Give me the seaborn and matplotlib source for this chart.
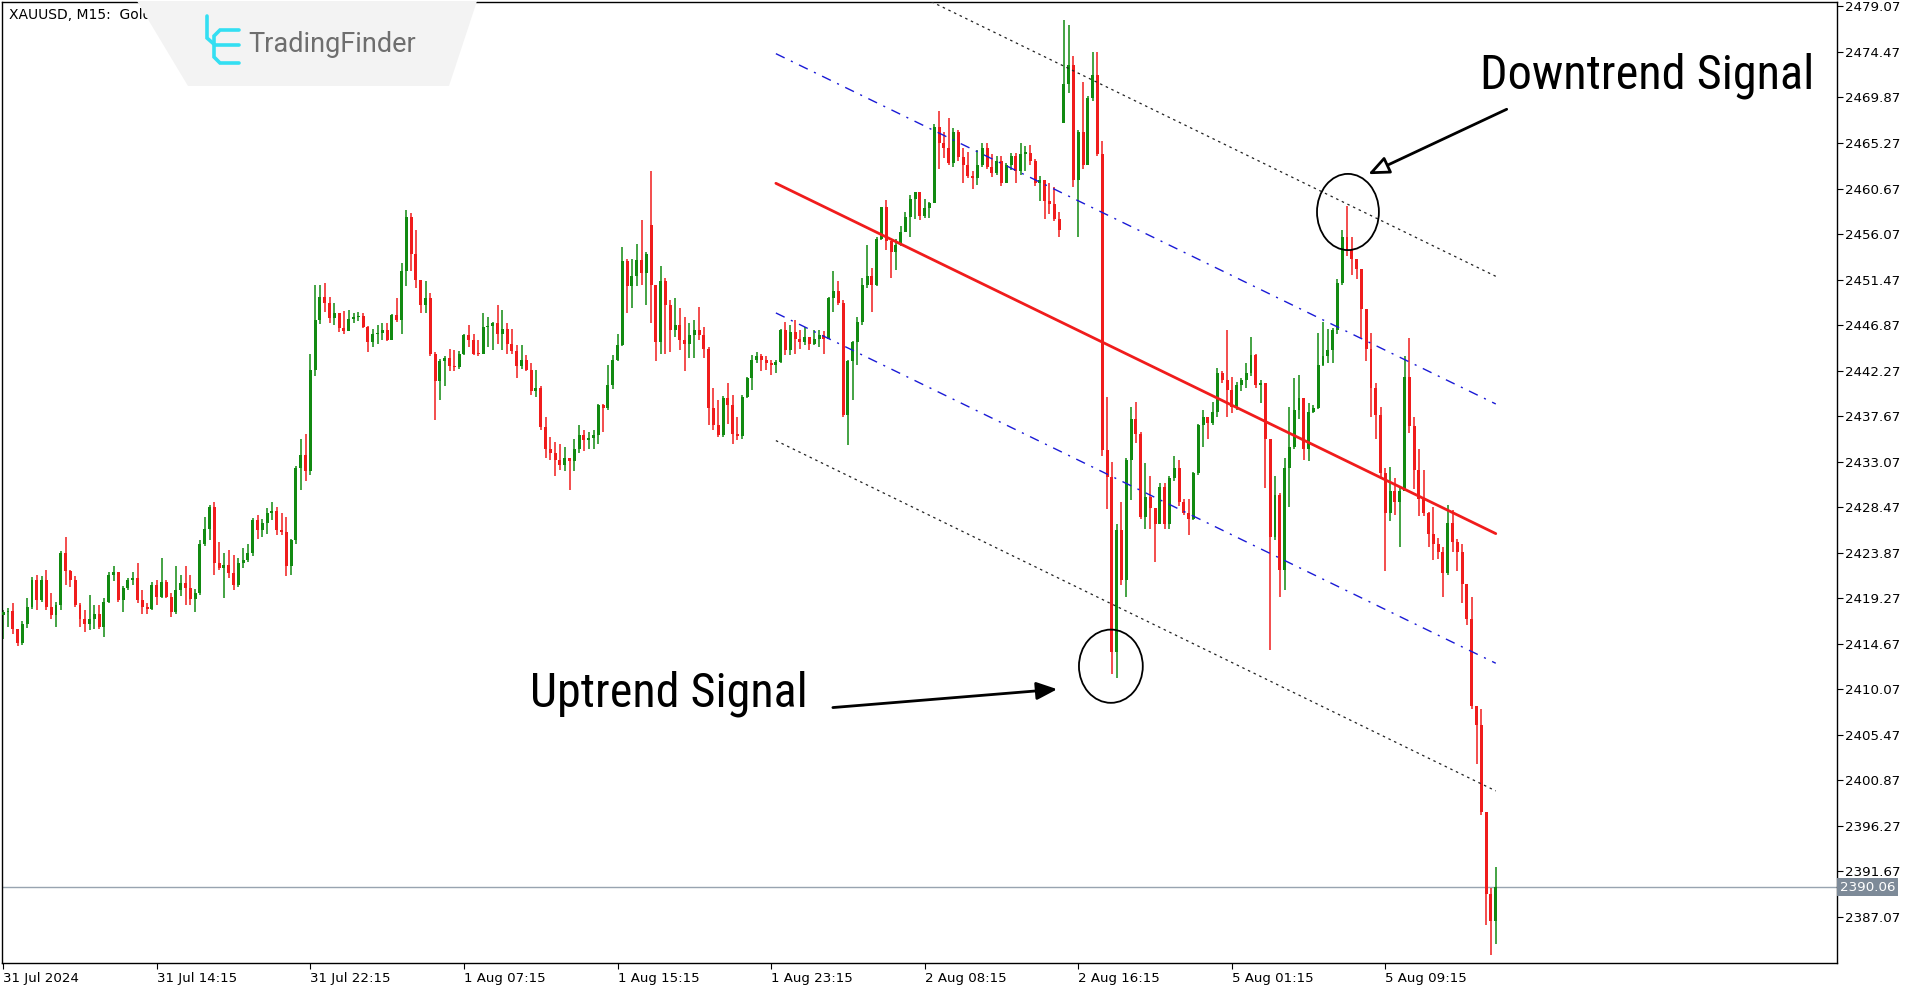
import numpy as np
import pandas as pd
import matplotlib
matplotlib.use("Agg")
import matplotlib.pyplot as plt
import seaborn as sns
from matplotlib.patches import Ellipse, Polygon
from matplotlib.lines import Line2D
from matplotlib import font_manager as fm
from matplotlib.transforms import blended_transform_factory

# ---------------- data ----------------
first_open = 2417.6
closes = [
    2417.9, 2418.0, 2416.2, 2414.7, 2416.7, 2418.4, 2421.1, 2419.1, 2421.1, 2418.4,
    2417.6, 2418.6, 2423.8, 2422.0, 2421.1, 2418.6, 2417.2, 2416.7, 2417.2, 2417.7,
    2416.4, 2418.9, 2421.6, 2421.9, 2419.1, 2420.3, 2421.1, 2421.3, 2419.1, 2418.4,
    2418.2, 2420.6, 2419.4, 2420.9, 2419.4, 2417.9, 2420.1, 2420.8, 2420.3, 2419.2,
    2419.8, 2424.7, 2426.3, 2428.5, 2422.8, 2422.3, 2422.6, 2421.8, 2420.6, 2422.8,
    2423.1, 2423.8, 2427.2, 2426.2, 2426.9, 2427.9, 2428.1, 2426.2, 2426.0, 2422.5,
    2425.2, 2432.4, 2433.7, 2432.1, 2442.3, 2447.4, 2449.7, 2449.1, 2447.6, 2448.1,
    2446.6, 2446.3, 2447.5, 2447.7, 2447.8, 2446.7, 2445.2, 2446.0, 2446.1, 2446.4,
    2445.4, 2447.9, 2447.4, 2452.3, 2457.8, 2454.1, 2451.4, 2448.9, 2449.6, 2443.9,
    2441.2, 2443.2, 2443.5, 2442.7, 2442.6, 2444.0, 2445.9, 2445.4, 2444.0, 2443.9,
    2446.7, 2446.8, 2447.1, 2446.0, 2446.5, 2445.0, 2444.3, 2442.7, 2443.3, 2442.3,
    2440.2, 2440.5, 2436.6, 2434.4, 2433.9, 2433.2, 2432.7, 2433.4, 2433.1, 2434.4,
    2435.8, 2435.3, 2435.5, 2435.8, 2438.8, 2438.5, 2440.8, 2443.3, 2444.9, 2453.3,
    2450.8, 2451.8, 2453.4, 2452.1, 2454.1, 2450.9, 2445.2, 2451.3, 2448.9, 2446.4,
    2446.9, 2445.4, 2445.0, 2445.9, 2446.4, 2445.9, 2444.5, 2438.5, 2436.8, 2435.8,
    2439.5, 2438.8, 2435.9, 2435.7, 2439.6, 2441.5, 2443.3, 2443.7, 2443.3, 2443.0,
    2442.8, 2443.1, 2446.4, 2444.4, 2446.2, 2445.5, 2445.2, 2445.7, 2445.0, 2445.5,
    2445.9, 2445.5, 2449.6, 2450.3, 2449.1, 2437.8, 2443.2, 2445.2, 2447.2, 2450.9,
    2451.8, 2450.9, 2455.6, 2458.8, 2455.4, 2454.3, 2455.0, 2456.3, 2457.8, 2459.6,
    2460.3, 2457.9, 2458.7, 2459.2, 2466.9, 2465.3, 2464.8, 2463.3, 2466.4, 2463.9,
    2463.0, 2461.9, 2461.7, 2463.0, 2464.8, 2462.8, 2462.2, 2463.5, 2461.2, 2463.0,
    2464.0, 2462.4, 2464.2, 2464.3, 2463.5, 2461.2, 2461.5, 2459.4, 2459.1, 2457.6,
    2456.5, 2471.2, 2473.2, 2461.5, 2466.4, 2463.0, 2469.8, 2472.1, 2464.2, 2434.2,
    2431.5, 2413.8, 2426.2, 2421.1, 2433.2, 2437.4, 2435.9, 2427.5, 2429.5, 2428.4,
    2426.8, 2430.5, 2426.8, 2431.4, 2432.4, 2429.0, 2427.9, 2427.3, 2431.9, 2436.8,
    2437.6, 2437.0, 2438.1, 2442.0, 2441.3, 2440.3, 2438.6, 2440.8, 2441.3, 2442.0,
    2443.8, 2440.8, 2441.0, 2435.4, 2425.5, 2429.7, 2422.1, 2432.4, 2434.6, 2438.3,
    2439.5, 2434.3, 2438.1, 2438.5, 2442.8, 2443.7, 2444.4, 2446.4, 2451.1, 2455.8,
    2454.5, 2453.5, 2452.5, 2448.5, 2444.5, 2440.5, 2437.8, 2431.9, 2427.9, 2430.1,
    2429.0, 2430.1, 2441.6, 2436.7, 2432.2, 2429.3, 2427.9, 2425.8, 2424.7, 2423.9,
    2421.8, 2426.9, 2425.0, 2423.9, 2420.7, 2417.2, 2408.4, 2406.5, 2397.7, 2389.4,
    2386.7, 2390.06,
]
highs = [
    2418.1, 2418.3, 2418.8, 2416.2, 2417.0, 2419.3, 2421.4, 2421.6, 2421.5, 2422.1,
    2419.8, 2418.9, 2424.0, 2425.5, 2422.1, 2421.5, 2418.8, 2418.1, 2419.6, 2418.6,
    2418.6, 2419.3, 2421.9, 2422.5, 2421.9, 2420.5, 2421.3, 2421.9, 2422.8, 2420.1,
    2418.8, 2420.9, 2421.1, 2423.3, 2421.1, 2419.8, 2422.5, 2421.6, 2422.5, 2421.6,
    2420.2, 2425.2, 2427.5, 2428.7, 2429.0, 2425.0, 2423.8, 2424.1, 2423.6, 2423.3,
    2424.3, 2424.8, 2427.4, 2427.7, 2427.3, 2428.4, 2429.0, 2428.5, 2427.9, 2427.5,
    2425.3, 2432.6, 2435.4, 2435.9, 2444.0, 2450.9, 2450.9, 2451.1, 2449.7, 2449.1,
    2448.0, 2448.3, 2448.4, 2448.1, 2448.2, 2448.1, 2446.8, 2446.5, 2446.9, 2447.05,
    2447.05, 2448.0, 2449.6, 2453.1, 2458.5, 2458.2, 2456.5, 2451.4, 2451.3, 2450.1,
    2444.2, 2443.4, 2443.7, 2444.5, 2444.4, 2444.3, 2446.0, 2446.9, 2446.0, 2445.4,
    2448.1, 2447.7, 2447.2, 2448.9, 2448.4, 2447.05, 2446.5, 2444.9, 2444.9, 2443.8,
    2443.0, 2442.3, 2440.7, 2437.6, 2435.6, 2435.1, 2434.9, 2434.6, 2433.4, 2435.4,
    2436.8, 2436.3, 2436.1, 2436.3, 2438.9, 2438.9, 2442.8, 2443.8, 2446.0, 2454.8,
    2453.6, 2453.5, 2455.1, 2457.5, 2454.3, 2462.4, 2450.9, 2452.8, 2451.6, 2449.4,
    2449.6, 2448.6, 2447.7, 2447.05, 2447.4, 2448.7, 2446.7, 2444.7, 2440.5, 2439.3,
    2439.7, 2441.0, 2439.8, 2437.6, 2439.8, 2441.6, 2443.8, 2444.2, 2443.9, 2443.7,
    2443.3, 2443.3, 2446.5, 2447.2, 2446.9, 2447.4, 2446.4, 2446.7, 2445.7, 2446.4,
    2446.4, 2446.3, 2449.7, 2452.3, 2451.3, 2449.4, 2443.3, 2445.3, 2447.7, 2451.6,
    2455.0, 2452.6, 2455.8, 2458.8, 2459.5, 2455.0, 2455.6, 2456.9, 2458.3, 2460.0,
    2460.3, 2460.3, 2459.6, 2459.3, 2467.2, 2468.5, 2466.4, 2467.8, 2466.8, 2466.6,
    2464.8, 2464.4, 2462.4, 2464.6, 2465.3, 2465.3, 2464.2, 2464.0, 2464.0, 2463.3,
    2464.3, 2464.3, 2465.3, 2465.0, 2465.1, 2463.7, 2461.9, 2461.0, 2461.2, 2460.8,
    2458.3, 2477.7, 2477.2, 2474.1, 2466.6, 2471.4, 2470.0, 2474.5, 2474.5, 2465.5,
    2439.6, 2433.0, 2426.8, 2429.0, 2433.4, 2438.6, 2439.1, 2436.1, 2432.9, 2431.6,
    2428.4, 2430.9, 2430.9, 2431.6, 2433.6, 2433.2, 2429.3, 2429.3, 2432.0, 2436.9,
    2438.3, 2437.6, 2439.1, 2442.5, 2442.2, 2446.4, 2441.6, 2441.1, 2441.5, 2443.0,
    2445.7, 2444.0, 2441.3, 2441.0, 2435.4, 2431.6, 2429.9, 2433.4, 2438.6, 2441.5,
    2441.8, 2439.5, 2438.97, 2438.8, 2446.1, 2447.2, 2446.5, 2446.6, 2451.5, 2456.5,
    2458.9, 2455.8, 2453.6, 2452.5, 2448.5, 2446.1, 2441.0, 2438.6, 2432.4, 2432.5,
    2431.4, 2430.5, 2443.7, 2445.6, 2437.6, 2434.3, 2432.2, 2428.0, 2428.5, 2425.4,
    2424.4, 2428.7, 2428.2, 2425.3, 2424.7, 2420.7, 2419.4, 2408.4, 2408.1, 2397.7,
    2390.0, 2392.1,
]
lows = [
    2415.1, 2416.4, 2415.7, 2414.4, 2414.5, 2416.3, 2418.2, 2418.1, 2418.9, 2418.1,
    2417.2, 2416.4, 2418.1, 2420.6, 2420.4, 2418.4, 2416.4, 2415.9, 2416.1, 2416.2,
    2416.2, 2415.4, 2418.8, 2421.0, 2418.9, 2417.9, 2420.1, 2420.6, 2418.8, 2417.7,
    2417.7, 2418.1, 2418.6, 2419.3, 2419.3, 2417.4, 2417.7, 2419.5, 2418.6, 2418.6,
    2417.9, 2419.6, 2424.5, 2425.2, 2421.6, 2422.1, 2419.3, 2421.3, 2420.1, 2420.4,
    2422.3, 2422.9, 2423.5, 2425.3, 2425.5, 2425.8, 2427.2, 2425.7, 2425.7, 2421.5,
    2421.6, 2424.7, 2430.2, 2431.1, 2431.7, 2441.7, 2447.0, 2448.2, 2447.1, 2446.9,
    2446.2, 2446.0, 2446.8, 2447.1, 2447.3, 2446.6, 2444.2, 2444.7, 2445.0, 2445.4,
    2445.3, 2445.4, 2447.2, 2446.0, 2450.8, 2452.3, 2450.6, 2448.1, 2448.1, 2443.7,
    2437.3, 2439.3, 2440.7, 2442.2, 2442.2, 2442.4, 2443.8, 2444.7, 2443.8, 2443.7,
    2443.9, 2444.7, 2444.4, 2445.0, 2444.4, 2444.0, 2444.0, 2441.5, 2442.4, 2442.2,
    2439.8, 2439.6, 2436.3, 2433.4, 2433.2, 2431.6, 2432.2, 2432.1, 2430.2, 2432.1,
    2433.9, 2434.1, 2434.3, 2434.3, 2434.9, 2436.1, 2438.3, 2440.4, 2443.2, 2444.8,
    2448.1, 2448.6, 2450.8, 2450.9, 2448.9, 2447.1, 2443.2, 2443.9, 2443.9, 2444.2,
    2445.7, 2444.4, 2442.2, 2443.5, 2443.5, 2445.4, 2443.5, 2436.8, 2436.3, 2435.6,
    2435.6, 2436.9, 2434.9, 2435.3, 2435.4, 2439.5, 2440.3, 2443.0, 2442.2, 2442.3,
    2441.8, 2442.0, 2443.0, 2443.8, 2443.8, 2444.0, 2444.5, 2444.9, 2444.4, 2444.9,
    2444.7, 2444.0, 2445.5, 2448.2, 2448.9, 2437.6, 2434.8, 2439.3, 2442.8, 2446.9,
    2450.6, 2448.2, 2450.8, 2455.5, 2454.5, 2451.6, 2452.4, 2454.9, 2456.3, 2455.8,
    2457.6, 2457.5, 2457.7, 2457.7, 2459.2, 2462.6, 2463.8, 2463.0, 2462.8, 2463.5,
    2461.2, 2461.7, 2460.6, 2461.0, 2462.8, 2462.6, 2461.8, 2462.0, 2460.9, 2461.2,
    2462.5, 2461.2, 2462.0, 2462.4, 2463.0, 2460.9, 2459.4, 2457.6, 2458.1, 2457.4,
    2455.8, 2467.3, 2470.3, 2460.8, 2455.8, 2462.6, 2463.3, 2469.5, 2464.0, 2433.6,
    2428.3, 2411.6, 2411.2, 2420.6, 2419.4, 2429.2, 2435.0, 2427.3, 2426.3, 2426.3,
    2422.9, 2426.8, 2426.3, 2426.3, 2431.1, 2428.6, 2427.7, 2425.7, 2427.2, 2431.7,
    2434.6, 2435.4, 2436.8, 2437.6, 2441.0, 2437.6, 2438.0, 2438.3, 2440.2, 2440.5,
    2441.7, 2440.5, 2439.0, 2430.4, 2414.0, 2425.2, 2419.4, 2420.1, 2428.5, 2434.3,
    2437.4, 2433.2, 2433.1, 2438.0, 2438.4, 2442.7, 2443.0, 2443.0, 2446.0, 2450.9,
    2453.9, 2451.9, 2451.5, 2445.6, 2443.2, 2437.6, 2435.4, 2431.3, 2422.0, 2427.1,
    2427.7, 2424.4, 2430.3, 2436.0, 2430.3, 2427.6, 2427.6, 2424.4, 2423.1, 2423.2,
    2419.4, 2421.6, 2423.9, 2422.0, 2418.8, 2416.6, 2408.1, 2402.5, 2397.4, 2386.2,
    2383.2, 2384.3,
]
open_gaps = {135: 2457.0, 221: 2467.3}

time_tick_pos = [0, 32, 64, 96, 128, 160, 192, 224, 256, 288]
time_tick_labels = ["31 Jul 2024", "31 Jul 14:15", "31 Jul 22:15", "1 Aug 07:15",
                    "1 Aug 15:15", "1 Aug 23:15", "2 Aug 08:15", "2 Aug 16:15",
                    "5 Aug 01:15", "5 Aug 09:15"]
price_ticks = [2387.07, 2391.67, 2396.27, 2400.87, 2405.47, 2410.07, 2414.67,
               2419.27, 2423.87, 2428.47, 2433.07, 2437.67, 2442.27, 2446.87,
               2451.47, 2456.07, 2460.67, 2465.27, 2469.87, 2474.47, 2479.07]

channel_x = [161, 311]
channel_mid = [2461.2, 2425.8]
inner_band = 13.1
outer_band = 26.0
last_price = 2390.06

# ---------------- style ----------------
sns.set_theme(style="white")
plt.rcParams["font.family"] = ["DejaVu Sans"]

GREEN = "#118a11"
RED = "#f01c1c"

W, H = 1920, 997
fig = plt.figure(figsize=(W / 100, H / 100), dpi=100)
fig.patch.set_facecolor("white")
ax = fig.add_axes([2 / W, 1 - 962.5 / H, 1835 / W, 960.5 / H])
ax.set_facecolor("white")

# ---------------- candles ----------------
c = np.array(closes)
hi = np.array(highs)
lo = np.array(lows)
n = len(c)
idx = np.arange(n)
o = np.r_[first_open, c[:-1]]
for k, v in open_gaps.items():
    o[k] = v
up = c >= o
cols = np.where(up, GREEN, RED)
top = np.maximum(hi, np.maximum(o, c))
bot = np.minimum(lo, np.minimum(o, c))
ax.vlines(idx, bot, top, colors=cols, lw=1.1, zorder=2)
body_b = np.minimum(o, c)
body_h = np.maximum(np.abs(c - o), 0.12)
ax.bar(idx, body_h, bottom=body_b, width=0.62, color=cols, linewidth=0, zorder=3)

# ---------------- regression channel ----------------
mid = np.array(channel_mid)
sns.lineplot(x=channel_x, y=mid + outer_band, ax=ax, color="#222222", lw=0.9,
             linestyle=(0, (2, 3)), zorder=4)
sns.lineplot(x=channel_x, y=mid - outer_band, ax=ax, color="#222222", lw=0.9,
             linestyle=(0, (2, 3)), zorder=4)
sns.lineplot(x=channel_x, y=mid + inner_band, ax=ax, color="#1a1ad6", lw=1.0,
             linestyle=(0, (7, 5, 1.5, 5)), zorder=4)
sns.lineplot(x=channel_x, y=mid - inner_band, ax=ax, color="#1a1ad6", lw=1.0,
             linestyle=(0, (7, 5, 1.5, 5)), zorder=4)
sns.lineplot(x=channel_x, y=mid, ax=ax, color=RED, lw=2.0, zorder=5)

# current price line
ax.axhline(last_price, color="#98a4b0", lw=1.0, zorder=1)

# ---------------- axes ----------------
ax.set_xlim(-0.25, 382.1)
ax.set_ylim(2382.46, 2479.52)
ax.yaxis.tick_right()
ax.set_yticks(price_ticks)
ax.set_yticklabels([f"{v:.2f}" for v in price_ticks])
ax.set_xticks(time_tick_pos)
ax.set_xticklabels(time_tick_labels, ha="left")
ax.tick_params(axis="y", which="both", right=True, left=False, direction="out",
               length=4, width=0.8, labelsize=9.6, pad=1.5, colors="black")
ax.tick_params(axis="x", which="both", bottom=True, direction="out", length=4,
               width=0.8, labelsize=9.6, pad=3, colors="black")
for s in ax.spines.values():
    s.set_visible(True)
    s.set_color("black")
    s.set_linewidth(1.0)
ax.grid(False)
ax.set_xlabel("")
ax.set_ylabel("")
if ax.get_legend() is not None:
    ax.get_legend().remove()

# price label box on the axis
trans = blended_transform_factory(ax.transAxes, ax.transData)
ax.text(1.0015, last_price, f"{last_price:.2f}", transform=trans, ha="left",
        va="center", fontsize=9.6, color="white", zorder=10, clip_on=False,
        bbox=dict(boxstyle="square,pad=0.2", fc="#7d8a98", ec="none"))

# ---------------- annotations ----------------
ax.add_patch(Ellipse((230.8, 2412.4), 13.3, 7.4, fill=False, ec="black", lw=1.3, zorder=6))
ax.add_patch(Ellipse((280.2, 2458.3), 12.9, 7.7, fill=False, ec="black", lw=1.3, zorder=6))

ax.annotate("", xy=(220.2, 2410.1), xytext=(172.3, 2408.2),
            arrowprops=dict(arrowstyle="-|>,head_length=0.7,head_width=0.3",
                            color="black", lw=2.0, mutation_scale=18), zorder=6)
ax.annotate("", xy=(283.9, 2462.0), xytext=(313.8, 2468.8),
            arrowprops=dict(arrowstyle="-|>,head_length=0.7,head_width=0.3",
                            fc="white", ec="black", lw=2.0, mutation_scale=18), zorder=6)

# pick a condensed font if one is installed
prefs = ["Roboto Condensed", "Liberation Sans Narrow", "Open Sans Condensed",
         "Noto Sans Condensed", "DejaVu Sans Condensed"]
fp = None
for name in prefs:
    for f in fm.fontManager.ttflist:
        if f.name == name and f.style == "normal" and f.weight in (400, "normal", "regular"):
            fp = fm.FontProperties(fname=f.fname)
            break
    if fp is not None:
        break
if fp is None:
    for f in fm.fontManager.ttflist:
        if f.stretch in ("condensed", "semi-condensed") and f.style == "normal" \
                and f.weight in (400, "normal", "regular"):
            fp = fm.FontProperties(fname=f.fname)
            break
if fp is None:
    fp = fm.FontProperties(family="Roboto")

t1 = ax.text(138.7, 2409.6, "Uptrend Signal", ha="center", va="center",
             fontproperties=fp, fontsize=40, color="black", zorder=7)
t2 = ax.text(342.5, 2472.1, "Downtrend Signal", ha="center", va="center",
             fontproperties=fp, fontsize=40, color="black", zorder=7)
fig.canvas.draw()
r = fig.canvas.get_renderer()
for t, target in ((t1, 275.0), (t2, 331.0)):
    w = t.get_window_extent(r).width
    size = min(40.0, 40.0 * target / w * 1.01)
    t.set_fontsize(size)

# ---------------- header / watermark ----------------
fig.text(9 / W, 1 - 8 / H, "XAUUSD, M15:  Gold Spot", ha="left", va="top",
         fontsize=10, color="black", zorder=5)
wm = Polygon([(137 / W, 1 - 1 / H), (477 / W, 1 - 1 / H), (449 / W, 1 - 86 / H),
              (188 / W, 1 - 86 / H)], closed=True, transform=fig.transFigure,
             fc="#f3f3f3", ec="none", zorder=6)
fig.add_artist(wm)
icon_color = "#33dff2"
for pts in ([(207, 16), (207, 38), (215, 45), (239, 45)],
            [(239, 30), (220, 30), (214, 36), (214, 57), (220, 63), (239, 63)]):
    xs = [p[0] / W for p in pts]
    ys = [1 - p[1] / H for p in pts]
    fig.add_artist(Line2D(xs, ys, transform=fig.transFigure, color=icon_color,
                          lw=2.6, solid_joinstyle="miter", zorder=7))
fig.text(248 / W, 1 - 44 / H, "TradingFinder", ha="left", va="center",
         fontsize=19.5, family="Roboto", color="#6e6e6e", zorder=7)

fig.savefig("out.png", dpi=100, facecolor="white")
